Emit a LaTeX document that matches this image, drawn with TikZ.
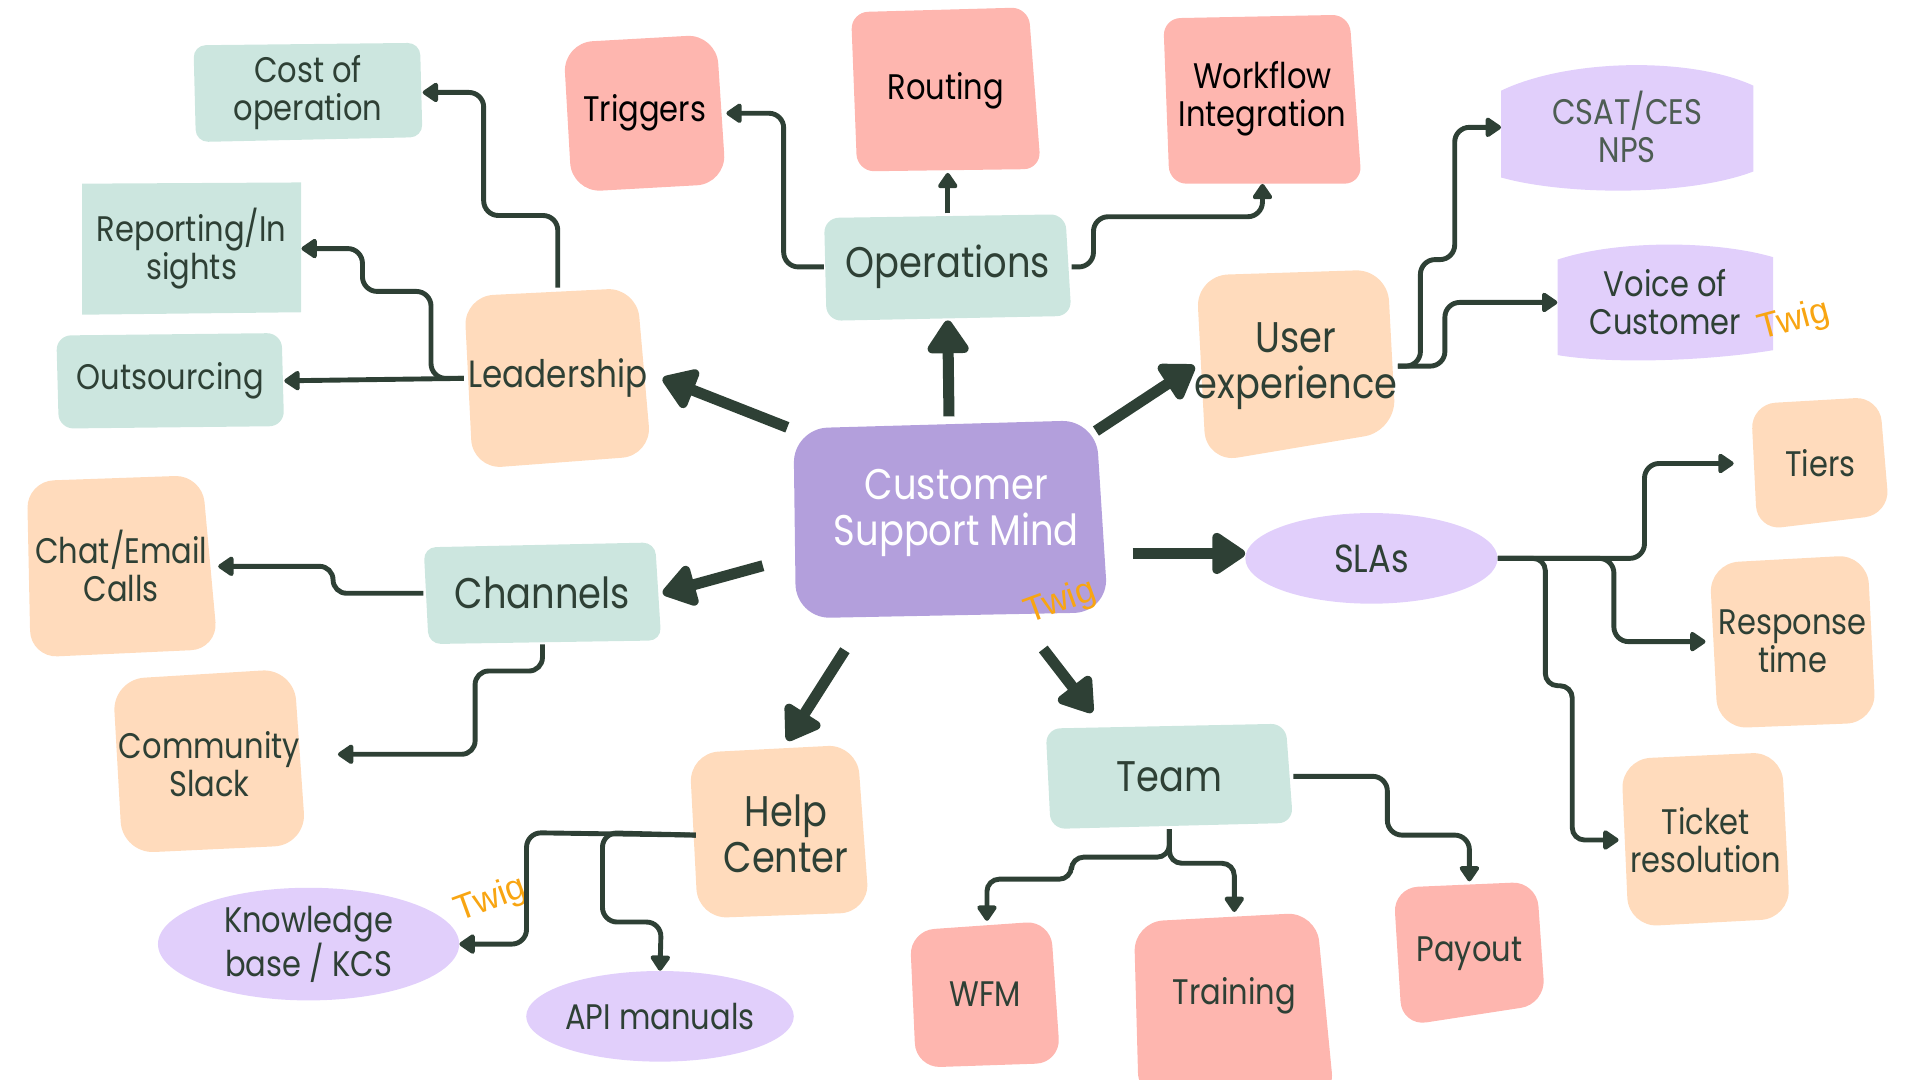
\documentclass[tikz,border=0pt]{standalone}
\usepackage{fontspec}
\setmainfont{Poppins}[FakeStretch=0.86]
\newfontfamily\twigfont{Liberation Sans}
\usetikzlibrary{arrows.meta,shapes.geometric}
\definecolor{mint}{HTML}{CCE6DF}
\definecolor{peach}{HTML}{FFDBBC}
\definecolor{salmon}{HTML}{FEB6AF}
\definecolor{lilac}{HTML}{E1CFFB}
\definecolor{violet}{HTML}{B39FDC}
\definecolor{ink}{HTML}{2E4035}
\definecolor{twigc}{HTML}{F8A512}
\tikzset{
  lbl/.style={inner sep=0pt, align=center, text=ink, font=\fontsize{29}{31}\selectfont},
  biglbl/.style={lbl, font=\fontsize{35}{37}\selectfont},
  redlbl/.style={lbl, text=black},
  conn/.style={draw=ink, line width=4pt, rounded corners=12pt, -{Triangle[length=14pt,width=18pt,round]}},
  mainarrow/.style={draw=ink, line width=9pt, -{Triangle[length=30pt,width=38pt,round]}},
  twig/.style={text=twigc, font=\twigfont\fontsize{29}{29}\selectfont, inner sep=0pt},
  bubble/.style={lbl, ellipse, fill=lilac, inner sep=0pt},
}
\begin{document}
\begin{tikzpicture}[x=1pt,y=-1pt]
\useasboundingbox (0,0) rectangle (1568,882);
% ---------- shapes ----------
\fill[mint, rounded corners=10pt] (158,37) -- (343,35) -- (345,112) -- (160,116) -- cycle;
\fill[mint] (67,150) -- (246,149) -- (246,255) -- (67,257) -- cycle;
\fill[mint, rounded corners=12pt] (46,274) -- (230,272) -- (232,348) -- (48,350) -- cycle;
\fill[peach, rounded corners=24pt] (379,242) -- (520,235) -- (532,372) -- (386,383) -- cycle;
\fill[salmon, rounded corners=24pt] (460,35) -- (585,28) -- (593,150) -- (467,157) -- cycle;
\fill[salmon, rounded corners=14pt] (695,10) -- (840,6) -- (850,138) -- (700,140) -- cycle;
\fill[salmon, rounded corners=14pt] (950,15) -- (1102,12) -- (1112,150) -- (955,150) -- cycle;
\fill[mint, rounded corners=12pt] (673,178) -- (870,175) -- (875,258) -- (675,262) -- cycle;
\fill[lilac] (1226,74) .. controls (1280,48) and (1380,46) .. (1432,70) -- (1432,140) .. controls (1380,160) and (1280,160) .. (1226,145) -- cycle;
\fill[lilac] (1272,212) .. controls (1320,196) and (1400,196) .. (1448,210) -- (1448,286) .. controls (1400,294) and (1320,298) .. (1272,290) -- cycle;
\fill[peach, rounded corners=26pt] (977,225) -- (1133,220) -- (1140,352) -- (985,378) -- cycle;
\fill[peach, rounded corners=22pt] (22,393) -- (165,388) -- (178,530) -- (25,537) -- cycle;
\fill[mint, rounded corners=10pt] (346,447) -- (535,443) -- (540,523) -- (350,526) -- cycle;
\fill[peach, rounded corners=26pt] (92,555) -- (240,546) -- (250,690) -- (100,697) -- cycle;
\fill[violet, rounded corners=28pt] (648,350) -- (895,343) -- (905,500) -- (650,505) -- cycle;
\fill[peach, rounded corners=20pt] (1430,330) -- (1535,324) -- (1543,420) -- (1435,433) -- cycle;
\fill[peach, rounded corners=24pt] (1396,460) -- (1525,453) -- (1532,590) -- (1403,595) -- cycle;
\fill[peach, rounded corners=24pt] (1324,620) -- (1455,614) -- (1462,750) -- (1330,757) -- cycle;
\fill[peach, rounded corners=24pt] (563,615) -- (700,608) -- (710,745) -- (570,750) -- cycle;
\fill[mint, rounded corners=12pt] (854,595) -- (1050,591) -- (1056,672) -- (858,677) -- cycle;
\fill[salmon, rounded corners=20pt] (743,760) -- (858,752) -- (866,868) -- (748,872) -- cycle;
\fill[salmon, rounded corners=24pt] (926,753) -- (1075,745) -- (1090,900) -- (930,900) -- cycle;
\fill[salmon, rounded corners=20pt] (1138,725) -- (1255,720) -- (1262,820) -- (1145,838) -- cycle;
% ---------- nodes ----------
\node[lbl, minimum width=187pt, minimum height=81pt] (cost) at (251.5,75.5) {Cost of\\operation};
\node[lbl, minimum width=179pt, minimum height=108pt] (rep) at (156.5,203) {Reporting/In\\sights};
\node[lbl, minimum width=186pt, minimum height=78pt] (outs) at (139,311) {Outsourcing};
\node[lbl, font=\fontsize{31}{34}\selectfont, minimum width=153pt, minimum height=148pt] (lead) at (455.5,309) {Leadership};
\node[redlbl, minimum width=133pt, minimum height=129pt] (trig) at (526.5,92.5) {Triggers};
\node[redlbl, minimum width=155pt, minimum height=134pt] (rout) at (772.5,74) {Routing};
\node[redlbl, minimum width=162pt, minimum height=138pt] (wf) at (1031,81) {Workflow\\Integration};
\node[biglbl, minimum width=202pt, minimum height=87pt] (ops) at (774,218) {Operations};
\node[lbl, text=ink!85, minimum width=206pt, minimum height=104pt] (csat) at (1329,104) {CSAT/CES\\NPS};
\node[lbl, minimum width=176pt, minimum height=98pt] (voice) at (1360,247) {Voice of\\Customer};
\node[biglbl, minimum width=163pt, minimum height=158pt] (ux) at (1058.5,299) {User\\experience};
\node[lbl, minimum width=158pt, minimum height=149pt] (chat) at (99,462.5) {Chat/Email\\Calls};
\node[biglbl, minimum width=194pt, minimum height=83pt] (chan) at (443,484.5) {Channels};
\node[lbl, minimum width=158pt, minimum height=151pt] (comm) at (171,624) {Community\\Slack};
\node[inner sep=0pt, minimum width=257pt, minimum height=162pt] (hub) at (776.5,424) {};
\node[biglbl, text=white] (hubtext) at (781,419) {Customer\\Support Mind};
\node[bubble, font=\fontsize{32}{34}\selectfont, minimum width=206pt, minimum height=74pt] (sla) at (1120,456) {SLAs};
\node[lbl, minimum width=113pt, minimum height=109pt] (tiers) at (1486.5,378.5) {Tiers};
\node[lbl, minimum width=136pt, minimum height=142pt] (resp) at (1464,524) {Response\\time};
\node[lbl, minimum width=138pt, minimum height=143pt] (ticket) at (1393,686) {Ticket\\resolution};
\node[biglbl, minimum width=147pt, minimum height=142pt] (help) at (642,681) {Help\\Center};
\node[bubble, minimum width=246pt, minimum height=92pt] (know) at (252,771) {Knowledge\\base / KCS};
\node[bubble, minimum width=216pt, minimum height=74pt] (api) at (539,830) {API manuals};
\node[biglbl, minimum width=202pt, minimum height=86pt] (team) at (955,634) {Team};
\node[lbl, minimum width=123pt, minimum height=120pt] (wfm) at (804.5,812) {WFM};
\node[lbl, minimum width=164pt, minimum height=137pt] (train) at (1008,813.5) {Training};
\node[lbl, minimum width=124pt, minimum height=118pt] (pay) at (1200,779) {Payout};
\node[twig, rotate=20] (twig1) at (866,492) {Twig};
\node[twig, rotate=15] (twig2) at (1465,262) {Twig};
\node[twig, rotate=20] (twig3) at (401,735) {Twig};
% ---------- main arrows ----------
\coordinate (sL) at (643,349);
\coordinate (sO) at (775,340);
\coordinate (sU) at (895,352);
\coordinate (sS) at (925,452);
\coordinate (sT) at (852,530);
\coordinate (sH) at (690,531);
\coordinate (sC) at (623,462);
\draw[mainarrow] (sL) -- ([xshift=9pt]lead.east);
\draw[mainarrow] (sO) -- (ops.south);
\draw[mainarrow] (sU) -- (ux.west);
\draw[mainarrow] (sS) -- ([yshift=4pt]sla.west);
\draw[mainarrow] (sT) -- ([xshift=-63pt,yshift=9pt]team.north);
\draw[mainarrow] (sH) -- ([xshift=1pt,yshift=5pt]help.north);
\draw[mainarrow] (sC) -- ([xshift=1pt]chan.east);
% ---------- branch connectors ----------
\draw[conn] (lead.north) -- (455.5,176) -- (395,176) -- (395,75.5) -- (cost.east);
\draw[conn] (lead.west) -- (352,309) -- (352,238) -- (296,238) -- (296,203) -- (rep.east);
\draw[conn] (lead.west) -- (outs.east);
\draw[conn] (ops.west) -- (640,218) -- (640,92.5) -- (trig.east);
\draw[conn] (ops.north) -- (ops.north |- rout.south);
\draw[conn] (ops.east) -- (893,218) -- (893,177) -- (1031,177) -- (wf.south);
\draw[conn] (ux.east) -- (1160,299) -- (1160,212) -- (1188,212) -- (1188,104) -- (csat.west);
\draw[conn] (ux.east) -- (1180,299) -- (1180,247) -- (voice.west);
\draw[conn] (sla.east) -- (1343,456) -- (1343,378.5) -- ([xshift=-14pt]tiers.west);
\draw[conn] (sla.east) -- (1318,456) -- (1318,524) -- ([xshift=-3pt]resp.west);
\draw[conn, rounded corners=10pt] (sla.east) -- (1262,456) -- (1262,560) -- (1284,560) -- (1284,686) -- ([xshift=-2pt]ticket.west);
\draw[conn, rounded corners=11pt] (chan.west) -- (272,484.5) -- (272,462.5) -- (chat.east);
\coordinate (commend) at (276,616);
\draw[conn, rounded corners=11pt] (chan.south) -- (443,548) -- (388,548) -- (388,616) -- (commend);
\draw[conn] ([yshift=-1pt]help.west) -- (430,680) -- (430,771) -- (know.east);
\draw[conn] ([yshift=-1pt]help.west) -- (492,680) -- (492,753) -- (540,753) -- (api.north);
\draw[conn, rounded corners=10pt] (team.south) -- (955,700) -- (875,700) -- (875,718) -- (806,718) -- (806,752);
\draw[conn, rounded corners=10pt] (team.south) -- (955,705) -- (1008,705) -- (train.north);
\draw[conn] (team.east) -- (1133,634) -- (1133,682) -- (1200,682) -- (pay.north);
\end{tikzpicture}
\end{document}
